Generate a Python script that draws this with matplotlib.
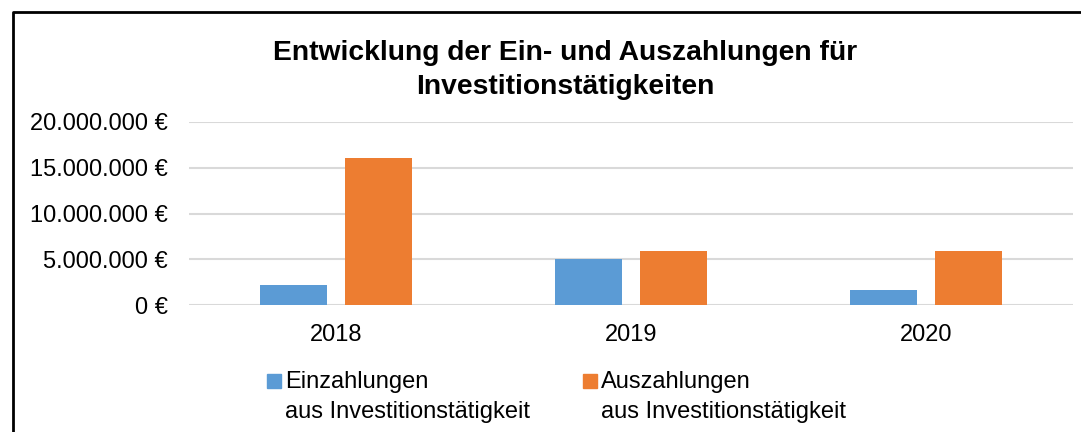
import numpy as np
import matplotlib.pyplot as plt
from matplotlib.lines import Line2D
from matplotlib.patches import Rectangle
from matplotlib.ticker import FuncFormatter

plt.rcParams['font.family'] = ['Liberation Sans', 'DejaVu Sans']

years = ['2018', '2019', '2020']
einzahlungen = [2150000, 5000000, 1650000]
auszahlungen = [16100000, 5900000, 5880000]
series_labels = ['Einzahlungen\naus Investitionstätigkeit',
                 'Auszahlungen\naus Investitionstätigkeit']
colors = ['#5B9BD5', '#ED7D31']

fig = plt.figure(figsize=(10.81, 4.32), dpi=100)
ax = fig.add_axes([189 / 1081, 1 - 305 / 432, (1073 - 189) / 1081, 183 / 432])

x = np.arange(len(years))
w = 0.227
gap = 0.061
ax.bar(x - (w + gap) / 2, einzahlungen, w, color=colors[0], zorder=3)
ax.bar(x + (w + gap) / 2, auszahlungen, w, color=colors[1], zorder=3)

ax.set_xlim(-0.5, len(years) - 0.5)
ax.set_ylim(0, 20000000)
ax.set_yticks(np.arange(0, 20000001, 5000000))
ax.yaxis.set_major_formatter(FuncFormatter(lambda v, p: f'{int(v):,} €'.replace(',', '.')))
ax.set_xticks(x)
ax.set_xticklabels(years)
ax.tick_params(axis='both', length=0, labelsize=17)
ax.tick_params(axis='y', pad=15)
ax.tick_params(axis='x', pad=14)
ax.grid(axis='y', color='#d9d9d9', linewidth=1.5, zorder=0)
for s in ax.spines.values():
    s.set_visible(False)

fig.text(565 / 1081, 1 - 70 / 432,
         'Entwicklung der Ein- und Auszahlungen für\nInvestitionstätigkeiten',
         ha='center', va='center', fontsize=20.3, fontweight='bold', linespacing=1.45)

# legend drawn by hand so the marker sits on the first line
for lx, lab, c in zip([267, 583], series_labels, colors):
    fig.add_artist(Rectangle((lx / 1081, 1 - 388 / 432), 14 / 1081, 14 / 432,
                             transform=fig.transFigure, color=c))
    fig.text((lx + 18) / 1081, 1 - 371 / 432, lab, ha='left', va='top',
             fontsize=17, linespacing=1.45)

# chart frame (left and top edge visible)
fig.add_artist(Line2D([13 / 1081, 13 / 1081, 1], [0, 1 - 12 / 432, 1 - 12 / 432],
                      transform=fig.transFigure, color='black', linewidth=2))

fig.savefig('out.png', dpi=100)
